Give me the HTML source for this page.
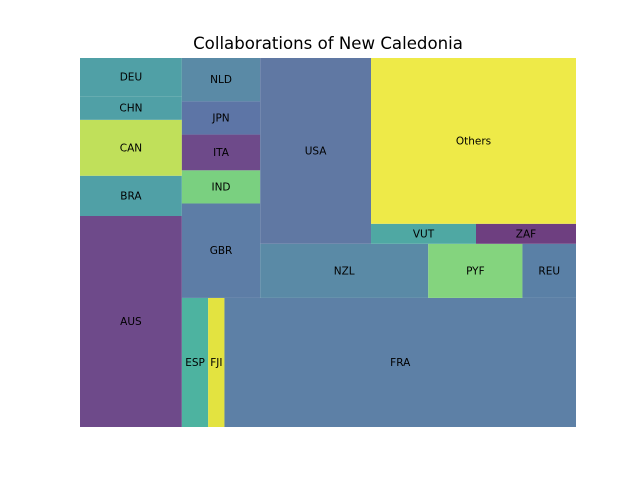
<!DOCTYPE html>
<html><head><meta charset="utf-8"><style>
body{margin:0;background:#fff;width:640px;height:480px;overflow:hidden;font-family:"DejaVu Sans","Liberation Sans",sans-serif}
svg{display:block}
</style></head><body>
<svg id="chart" width="640" height="480" viewBox="0 0 640 480">
<text x="328" y="49" text-anchor="middle" font-size="16.6" fill="#000">Collaborations of New Caledonia</text>
<g id="cells"></g>
</svg>
<script>
const labels = ["AUS","BRA","CAN","CHN","DEU","ESP","FJI","FRA","GBR","IND","ITA","JPN","NLD","NZL","PYF","REU","USA","VUT","ZAF","Others"];
const values = [215,41,57,24,39,34,21,454,74,26,28,26,34,91,51,29,206,21,20,340];
const colors = ["#6e4a8a","#50a0a6","#c0e05a","#50a0a6","#50a0a6","#4db3a0","#e3e340","#5d80a6","#5d7da6","#7ad080","#6e4a8a","#5d75a6","#5a8aa6","#5a8aa6","#84d47e","#5a80a6","#6078a3","#4fa8a3","#6e3f80","#eeea48"];

const PX0=80, PY0=58, PW=496, PH=369, N=100;

function layoutRow(s,x,y,dx,dy){const a=s.reduce((p,c)=>p+c,0);const h=a/dx;const r=[];for(const v of s){r.push({x:x,y:y,dx:v/h,dy:h});x+=v/h;}return r;}
function layoutCol(s,x,y,dx,dy){const a=s.reduce((p,c)=>p+c,0);const w=a/dy;const r=[];for(const v of s){r.push({x:x,y:y,dx:w,dy:v/w});y+=v/w;}return r;}
function layout(s,x,y,dx,dy){return dx>=dy?layoutCol(s,x,y,dx,dy):layoutRow(s,x,y,dx,dy);}
function leftover(s,x,y,dx,dy){const a=s.reduce((p,c)=>p+c,0);if(dx>=dy){const w=a/dy;return [x+w,y,dx-w,dy];}const h=a/dx;return [x,y+h,dx,dy-h];}
function worst(s,x,y,dx,dy){return Math.max(...layout(s,x,y,dx,dy).map(r=>Math.max(r.dx/r.dy,r.dy/r.dx)));}
function squarify(s,x,y,dx,dy){
  if(s.length===0)return [];
  if(s.length===1)return layout(s,x,y,dx,dy);
  let i=1;
  while(i<s.length && worst(s.slice(0,i),x,y,dx,dy)>=worst(s.slice(0,i+1),x,y,dx,dy))i++;
  const cur=s.slice(0,i),rem=s.slice(i);
  const [lx,ly,ldx,ldy]=leftover(cur,x,y,dx,dy);
  return layout(cur,x,y,dx,dy).concat(squarify(rem,lx,ly,ldx,ldy));
}
const total=values.reduce((a,b)=>a+b,0);
const norm=values.map(v=>v*N*N/total);
const rects=squarify(norm,0,0,N,N);
const sx=v=>PX0+v/N*PW;
const sy=v=>PY0+PH-v/N*PH;
const g=document.getElementById('cells');
const NS='http://www.w3.org/2000/svg';
rects.forEach((r,i)=>{
  const x0=sx(r.x),x1=sx(r.x+r.dx),y0=sy(r.y+r.dy),y1=sy(r.y);
  const rect=document.createElementNS(NS,'rect');
  rect.setAttribute('x',x0);rect.setAttribute('y',y0);
  rect.setAttribute('width',x1-x0);rect.setAttribute('height',y1-y0);
  rect.setAttribute('fill',colors[i]);
  
  
  g.appendChild(rect);
  const t=document.createElementNS(NS,'text');
  t.setAttribute('x',(x0+x1)/2);t.setAttribute('y',(y0+y1)/2+3.5);
  t.setAttribute('text-anchor','middle');t.setAttribute('font-size','10.5');t.setAttribute('fill','#000');
  t.textContent=labels[i];
  
  
  g.appendChild(t);
});
</script>
</body></html>
